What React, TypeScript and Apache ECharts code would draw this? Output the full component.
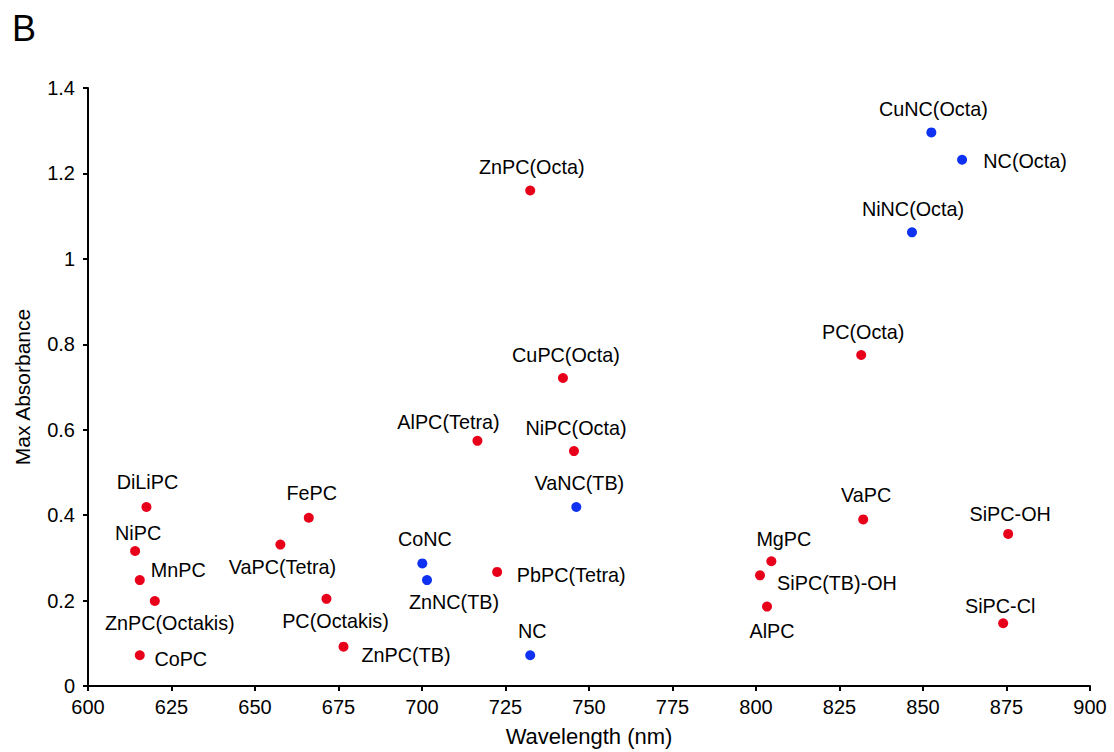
import React, { useEffect, useRef } from "react";
import * as echarts from "echarts";

// Phthalocyanines (red)
const pcNames = [
  "DiLiPC", "NiPC", "MnPC", "ZnPC(Octakis)", "CoPC", "VaPC(Tetra)", "FePC",
  "PC(Octakis)", "ZnPC(TB)", "PbPC(Tetra)", "AlPC(Tetra)", "ZnPC(Octa)",
  "CuPC(Octa)", "NiPC(Octa)", "MgPC", "SiPC(TB)-OH", "AlPC", "VaPC",
  "PC(Octa)", "SiPC-OH", "SiPC-Cl",
];
const pcWavelength = [
  617.5, 614.1, 615.5, 620.0, 615.5, 657.6, 666.1,
  671.4, 676.5, 722.5, 716.6, 732.4,
  742.2, 745.5, 804.6, 801.2, 803.3, 832.1,
  831.5, 875.5, 874.0,
];
const pcAbsorbance = [
  0.419, 0.316, 0.248, 0.199, 0.072, 0.331, 0.394,
  0.204, 0.092, 0.267, 0.574, 1.16,
  0.721, 0.55, 0.292, 0.259, 0.186, 0.39,
  0.775, 0.356, 0.147,
];

// Naphthalocyanines (blue)
const ncNames = ["CoNC", "ZnNC(TB)", "NC", "VaNC(TB)", "NiNC(Octa)", "CuNC(Octa)", "NC(Octa)"];
const ncWavelength = [700.1, 701.5, 732.4, 746.2, 846.7, 852.5, 861.7];
const ncAbsorbance = [0.287, 0.248, 0.072, 0.419, 1.062, 1.296, 1.232];

const xMin = 600;
const xMax = 900;
const xStep = 25;
const yMin = 0;
const yMax = 1.4;
const yStep = 0.2;

// label placement (pixel offsets of label centre from the dot)
const labelOffsets: Record<string, [number, number]> = {
  "DiLiPC": [1, -25],
  "NiPC": [3, -18],
  "MnPC": [38.5, -10],
  "ZnPC(Octakis)": [15, 22],
  "CoPC": [41, 4],
  "VaPC(Tetra)": [2, 22],
  "FePC": [3, -25],
  "PC(Octakis)": [9, 22],
  "ZnPC(TB)": [62.5, 8],
  "PbPC(Tetra)": [74, 3],
  "VaPC": [3, -24],
  "SiPC-OH": [2, -20],
  "MgPC": [12.5, -22],
  "SiPC(TB)-OH": [77, 8],
  "AlPC": [5, 24],
  "SiPC-Cl": [-3, -17],
  "ZnPC(Octa)": [1.5, -24],
  "CuPC(Octa)": [3, -23],
  "AlPC(Tetra)": [-29, -19],
  "NiPC(Octa)": [2, -23],
  "PC(Octa)": [2, -23],
  "CoNC": [2.5, -24],
  "ZnNC(TB)": [27, 22],
  "NC": [2, -24],
  "VaNC(TB)": [3, -24],
  "CuNC(Octa)": [2, -23],
  "NC(Octa)": [63, 1],
  "NiNC(Octa)": [1, -23],
};

const FONT = "Liberation Sans, Arial, Helvetica, sans-serif";

function buildData(names: string[], xs: number[], ys: number[]) {
  return names.map((n, i) => ({
    name: n,
    value: [xs[i], ys[i]],
    label: { offset: labelOffsets[n] || [0, -22] },
  }));
}

export default function App() {
  const ref = useRef<HTMLDivElement>(null);
  useEffect(() => {
    if (!ref.current) return;
    const chart = echarts.init(ref.current, null, { renderer: "svg" });
    const labelCommon = {
      show: true,
      position: "inside",
      align: "center",
      verticalAlign: "middle",
      formatter: "{b}",
      color: "#000",
      opacity: 1,
      fontSize: 19.8,
      fontFamily: FONT,
    };
    chart.setOption({
      animation: false,
      backgroundColor: "#fff",
      grid: { left: 88, right: 24, top: 88, bottom: 64.5, containLabel: false },
      graphic: [
        {
          type: "text",
          left: 12,
          top: 10,
          style: { text: "B", fontSize: 36, fontFamily: FONT, fill: "#000" },
        },
      ],
      xAxis: {
        type: "value",
        min: xMin,
        max: xMax,
        interval: xStep,
        name: "Wavelength (nm)",
        nameLocation: "middle",
        nameGap: 39,
        nameTextStyle: { fontSize: 22, fontFamily: FONT, color: "#000" },
        axisLine: { show: true, onZero: false, lineStyle: { color: "#000", width: 2 } },
        axisTick: { show: true, length: 5, lineStyle: { color: "#000", width: 2 } },
        axisLabel: { fontSize: 20, fontFamily: FONT, color: "#000", margin: 11 },
        splitLine: { show: false },
      },
      yAxis: {
        type: "value",
        min: yMin,
        max: yMax,
        interval: yStep,
        name: "Max Absorbance",
        nameLocation: "middle",
        nameGap: 55,
        nameRotate: 90,
        nameTextStyle: { fontSize: 21, fontFamily: FONT, color: "#000" },
        axisLine: { show: true, onZero: false, lineStyle: { color: "#000", width: 2 } },
        axisTick: { show: true, length: 5, lineStyle: { color: "#000", width: 2 } },
        axisLabel: { fontSize: 20, fontFamily: FONT, color: "#000", margin: 13 },
        splitLine: { show: false },
      },
      series: [
        {
          name: "PC",
          type: "scatter",
          symbol: "circle",
          symbolSize: 10,
          itemStyle: { color: "#e8001a", opacity: 1 },
          label: labelCommon,
          data: buildData(pcNames, pcWavelength, pcAbsorbance),
        },
        {
          name: "NC",
          type: "scatter",
          symbol: "circle",
          symbolSize: 10,
          itemStyle: { color: "#0f32f2", opacity: 1 },
          label: labelCommon,
          data: buildData(ncNames, ncWavelength, ncAbsorbance),
        },
      ],
    });
    return () => chart.dispose();
  }, []);
  return (
    <div
      ref={ref}
      style={{ position: "fixed", left: 0, top: 0, width: 1114, height: 752, background: "#fff" }}
    />
  );
}
